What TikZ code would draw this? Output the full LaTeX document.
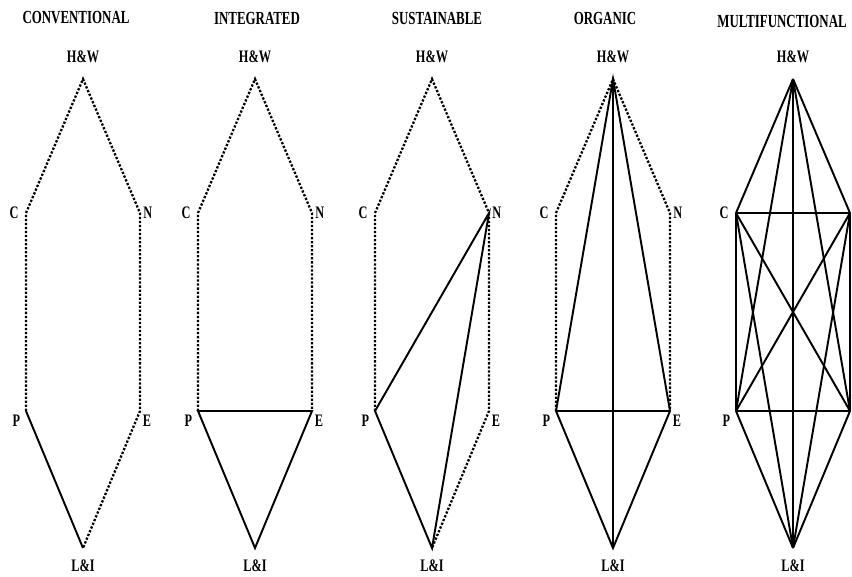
\documentclass[tikz,border=0pt]{standalone}
\usepackage{fontspec}
\newfontfamily\diagfont[FakeStretch=0.7]{Liberation Serif}
\usetikzlibrary{positioning}

\begin{document}
\begin{tikzpicture}[x=0.02cm, y=-0.02cm, line width=1.1pt,
    dot/.style={densely dotted, line width=1.3pt},
    title/.style={font=\diagfont\fontsize{10.5}{12}\selectfont\bfseries, inner sep=0pt},
    lbl/.style={font=\diagfont\fontsize{10}{12}\selectfont\bfseries, inner sep=0pt}]
  \useasboundingbox (0,0) rectangle (852,576);
  \clip (0,0) rectangle (852,576);

  % titles
  \node[title] (t-cv) at (76,18) {CONVENTIONAL};
  \node[title] (t-ig) at (257,18) {INTEGRATED};
  \node[title] (t-su) at (437,18) {SUSTAINABLE};
  \node[title] (t-or) at (605,18) {ORGANIC};
  \node[title] (t-mf) at (782,21) {MULTIFUNCTIONAL};

  % corners of each hexagon
  \foreach \p/\x in {cv/83, ig/255, su/432, or/613, mf/793} {
    \coordinate (\p-hw) at (\x,79);
    \coordinate (\p-c) at (\x-57,213);
    \coordinate (\p-n) at (\x+57,213);
    \coordinate (\p-p) at (\x-57,411);
    \coordinate (\p-e) at (\x+57,411);
    \coordinate (\p-li) at (\x,548);
    \node[lbl, above=0.3cm of \p-hw] {H\&W};
    \node[lbl, left=0.13cm of \p-c] {C};
    \node[lbl, right=0.05cm of \p-n] {N};
    \node[lbl, below left=0.06cm and 0.1cm of \p-p] {P};
    \node[lbl, below right=0.06cm and 0.04cm of \p-e] {E};
    \node[lbl, below=0.22cm of \p-li] {L\&I};
  }

  % conventional
  \draw[dot] (cv-p) -- (cv-c) -- (cv-hw) -- (cv-n) -- (cv-e) -- (cv-li);
  \draw (cv-p) -- (cv-li);

  % integrated
  \draw[dot] (ig-p) -- (ig-c) -- (ig-hw) -- (ig-n) -- (ig-e);
  \draw (ig-p) -- (ig-e) -- (ig-li) -- cycle;

  % sustainable
  \draw[dot] (su-p) -- (su-c) -- (su-hw) -- (su-n) -- (su-e) -- (su-li);
  \draw (su-n) -- (su-p) -- (su-li) -- cycle;

  % organic
  \draw[dot] (or-p) -- (or-c) -- (or-hw) -- (or-n) -- (or-e);
  \draw (or-hw) -- (or-p) -- (or-li) -- (or-e) -- cycle;
  \draw (or-p) -- (or-e);
  \draw (or-hw) -- (or-li);

  % multifunctional: every pair linked
  \foreach \a/\b in {hw/c, hw/n, hw/p, hw/e, hw/li, c/n, c/p, c/e, c/li,
                     n/p, n/e, n/li, p/e, p/li, e/li}
    \draw (mf-\a) -- (mf-\b);
\end{tikzpicture}
\end{document}
